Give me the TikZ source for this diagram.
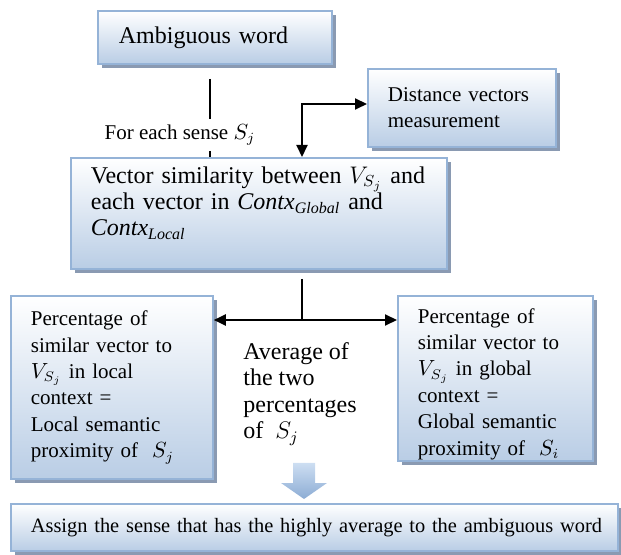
\documentclass[tikz,border=0pt]{standalone}
\usepackage{fontspec}
\setmainfont{Liberation Serif}
\usepackage{xcolor}
\usepackage{tikz}
\usetikzlibrary{arrows.meta,shadows}
\definecolor{boxblue}{RGB}{185,205,229}
\definecolor{boxline}{RGB}{149,179,215}
\definecolor{boxshade}{RGB}{138,154,178}
\definecolor{arrowtop}{RGB}{205,222,242}
\definecolor{arrowbot}{RGB}{140,172,212}
\tikzset{
box/.style={draw=boxline,line width=0.9pt,top color=white,bottom color=boxblue,
drop shadow={shadow xshift=2pt,shadow yshift=-2pt,fill=boxshade,opacity=1},
anchor=north west,align=left,inner xsep=10pt,inner ysep=3pt},
big/.style={font=\fontsize{12}{13.2}\selectfont},
small/.style={font=\fontsize{10.5}{13.2}\selectfont},
link/.style={line width=1pt},
tip/.tip={Triangle[length=6pt,width=5.5pt]}
}
\begin{document}
\begin{tikzpicture}[x=0.5pt,y=-0.5pt]
\useasboundingbox (0,0) rectangle (621,555);
\node[box,big,inner xsep=10.5pt,minimum width=117pt,minimum height=26.5pt,text width=96pt](amb) at (97,10){Ambiguous word};
\node[box,small,minimum width=94pt,minimum height=39pt,text width=74pt](dist) at (367,68){Distance vectors\\measurement};
\node[box,big,minimum width=188pt,minimum height=55.5pt,text width=168pt](vec) at (70,157)
{Vector similarity between $V_{S_j}$ and\\each vector in $\mathit{Contx}_{\mathit{Global}}$ and\\$\mathit{Contx}_{\mathit{Local}}$\\[-1pt]\mbox{}};
\node[box,small,minimum width=101pt,minimum height=91.5pt,text width=81pt](loc) at (10,295)
{Percentage of\\similar vector to\\$V_{S_j}$ in local\\context =\\Local semantic\\proximity of\ \ $S_j$};
\node[box,small,inner ysep=0pt,minimum width=97.5pt,minimum height=82.5pt,text width=77.5pt](glob) at (397,295)
{\mbox{}\\[-0.2pt]Percentage of\\similar vector to\\$V_{S_j}$ in global\\context =\\Global semantic\\proximity of\ \ $S_i$};
\node[big,anchor=north west,align=left,inner sep=0pt](avg) at (243,342)
{Average of\\the two\\percentages\\of\ \ $S_j$};
\node[box,font=\fontsize{10.2}{12}\selectfont,minimum width=303.5pt,minimum height=23.5pt,text width=283.5pt](assign) at (10,503)
{\mbox{Assign the sense that has the highly average to the ambiguous word}};
\node[small,inner sep=2.5pt](lbl) at (180,135){For each sense $S_j$};
\coordinate (sense) at (210,0);
\coordinate (bend) at (302,104);
\coordinate (split) at (302,320);
\draw[line width=0.8pt]([yshift=-7pt]amb.south -| sense)--(lbl.north -| sense);
\draw[line width=0.8pt](lbl.south -| sense)--(vec.north -| sense);
\draw[link,tip-tip](bend |- vec.north)--(bend)--(dist.west |- bend);
\draw[link]([yshift=-4.5pt]vec.south -| split)--(split);
\draw[link,tip-tip](loc.east |- split)--(glob.west |- split);
\shade[top color=arrowtop,bottom color=arrowbot]
(293,463)--(315,463)--(315,483)--(327,483)--(304,499)--(281,483)--(293,483)--cycle;
\end{tikzpicture}
\end{document}
